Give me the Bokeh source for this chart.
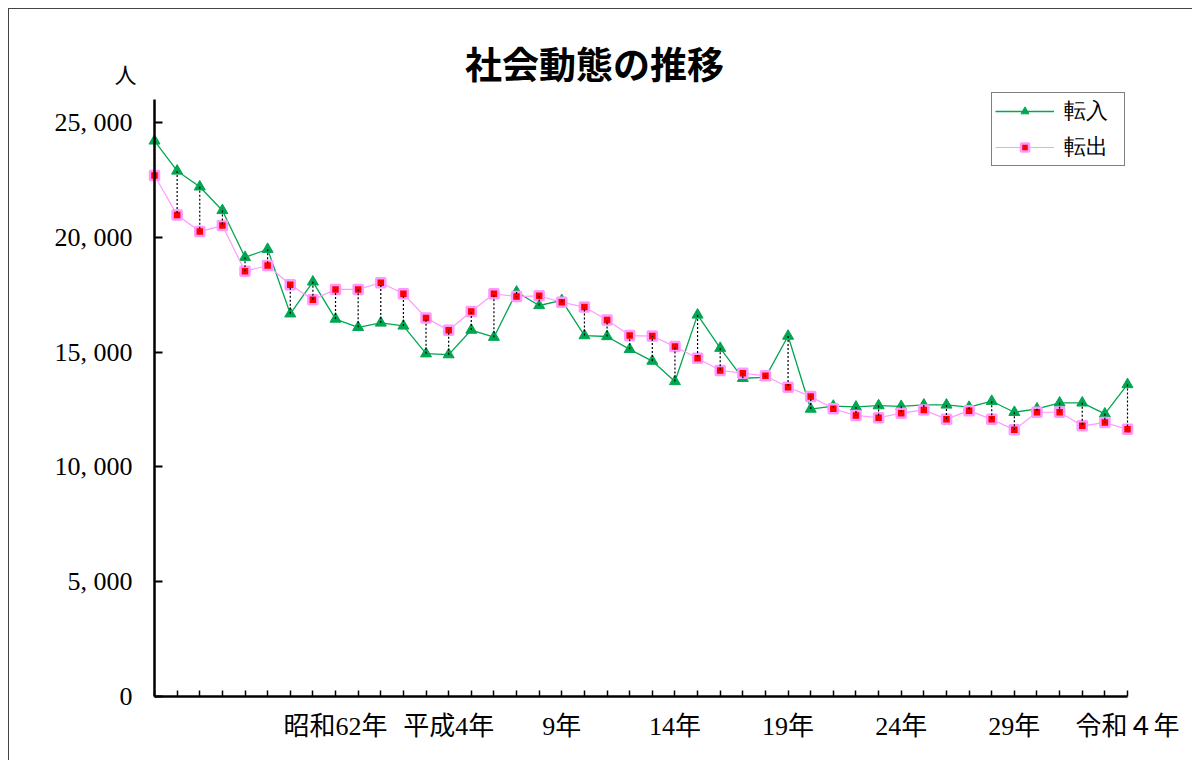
from bokeh.plotting import figure
from bokeh.models import Range1d, FixedTicker, Label, Legend, LegendItem, ColumnDataSource
from bokeh.embed import file_html
from bokeh.resources import INLINE

# Years 昭和54年 (1979) .. 令和4年 (2022)
years = list(range(1979, 2023))
tennyu = [24200, 22890, 22200, 21170, 19130, 19480, 16670, 18060, 16440, 16080,
          16270, 16140, 14930, 14890, 15960, 15650, 17620, 17030, 17250, 15720,
          15680, 15120, 14610, 13720, 16620, 15170, 13860, 13900, 15700, 12520,
          12650, 12610, 12670, 12640, 12700, 12700, 12600, 12860, 12380, 12530,
          12790, 12790, 12310, 13590]
tenshutsu = [22690, 20970, 20250, 20510, 18520, 18770, 17930, 17280, 17730, 17730,
             18020, 17540, 16490, 15950, 16770, 17540, 17420, 17450, 17170, 16960,
             16400, 15720, 15700, 15240, 14730, 14200, 14080, 13970, 13470, 13070,
             12530, 12240, 12140, 12340, 12480, 12080, 12450, 12070, 11620, 12380,
             12380, 11790, 11930, 11640]
label_years = [1987, 1992, 1997, 2002, 2007, 2012, 2017, 2022]
label_texts = ["昭和62年", "平成4年", "9年", "14年", "19年", "24年", "29年", "令和４年"]
y_ticks = [0, 5000, 10000, 15000, 20000, 25000]
y_tick_texts = ["0", "5, 000", "10, 000", "15, 000", "20, 000", "25, 000"]
y_axis_max = 26000

idx = list(range(len(years)))
n_last = len(years) - 1
src = ColumnDataSource(dict(x=idx, tin=tennyu, tout=tenshutsu))

SERIF = "Liberation Serif, Noto Sans CJK JP"

# The frame covers almost the whole figure; axes are placed at x=0 / y=0 so that
# titles, unit label and tick labels stay inside the (clipped) frame.
FL, FR, FT, FB = 20, 1190, 20, 758      # frame edges in page pixels
XPX = (1127 - 154) / n_last             # px per year
YPX = 574 / 25000                       # px per person
x_rng = Range1d(-(154 - FL) / XPX, n_last + (FR - 1127) / XPX)
y_rng = Range1d(-(FB - 696) / YPX, (696 - FT) / YPX)

p = figure(width=1184, height=752, output_backend="svg", toolbar_location=None,
           x_range=x_rng, y_range=y_rng,
           min_border_left=FL - 9, min_border_right=1193 - FR,
           min_border_top=FT - 9, min_border_bottom=761 - FB)
p.styles = {"margin-left": "8px", "margin-top": "8px",
            "border-top": "1px solid #444", "border-left": "1px solid #444"}
p.grid.visible = False
p.outline_line_color = None
p.background_fill_color = "white"

# axes
xa = p.xaxis[0]
xa.fixed_location = 0
xa.ticker = FixedTicker(ticks=idx)
xa.bounds = (0, n_last)
overrides = {i: "" for i in idx}
for yr, t in zip(label_years, label_texts):
    overrides[years.index(yr)] = t
xa.major_label_overrides = overrides
xa.major_tick_in = 6
xa.major_tick_out = 0
xa.minor_tick_line_color = None
xa.axis_line_width = 2.5
xa.major_tick_line_width = 1.5
xa.major_label_standoff = 15
xa.major_label_text_font = SERIF
xa.major_label_text_font_size = "26px"
xa.major_label_text_color = "black"

ya = p.yaxis[0]
ya.fixed_location = 0
ya.bounds = (0, y_axis_max)
ya.ticker = FixedTicker(ticks=y_ticks)
ya.major_label_overrides = dict(zip(y_ticks, y_tick_texts))
ya.major_tick_in = 8
ya.major_tick_out = 0
ya.minor_tick_line_color = None
ya.axis_line_width = 2.5
ya.major_tick_line_width = 2
ya.major_label_standoff = 22
ya.major_label_text_font = SERIF
ya.major_label_text_font_size = "26px"
ya.major_label_text_color = "black"

# series
l1 = p.line("x", "tin", source=src, line_color="#00a651", line_width=1.3)
s1 = p.scatter("x", "tin", source=src, marker="triangle", size=11,
               fill_color="#00a651", line_color="#00a651")
l2 = p.line("x", "tout", source=src, line_color="#ff99ff", line_width=1.2)
s2 = p.scatter("x", "tout", source=src, marker="square", size=9,
               fill_color="#ff0000", line_color="#ff99ff", line_width=2.5)
p.segment(x0="x", y0="tin", x1="x", y1="tout", source=src,
          line_color="black", line_dash="2 2", line_width=1.2)

legend = Legend(items=[LegendItem(label="転入", renderers=[l1, s1]),
                       LegendItem(label="転出", renderers=[l2, s2])],
                location=(991 - FL, FB - 166))
legend.border_line_color = "black"
legend.border_line_width = 1
legend.label_text_font = "Liberation Serif"
legend.label_text_font_size = "22px"
legend.label_text_color = "black"
legend.glyph_width = 59
legend.glyph_height = 20
legend.label_height = 20
legend.label_width = 57
legend.label_standoff = 10
legend.padding = 3
legend.spacing = 6
legend.margin = 0
legend.background_fill_alpha = 1
p.add_layout(legend)

# title & unit
p.add_layout(Label(x=(594 - 154) / XPX, y=(696 - 62) / YPX, text="社会動態の推移",
                   text_align="center", text_baseline="middle",
                   text_font="Noto Sans CJK JP", text_font_style="bold",
                   text_font_size="37px", text_color="black"))
p.add_layout(Label(x=(125 - 154) / XPX, y=(696 - 75) / YPX, text="人",
                   text_align="center", text_baseline="middle", text_font=SERIF,
                   text_font_size="22px", text_color="black"))

open("out.html", "w").write(file_html(p, INLINE))
